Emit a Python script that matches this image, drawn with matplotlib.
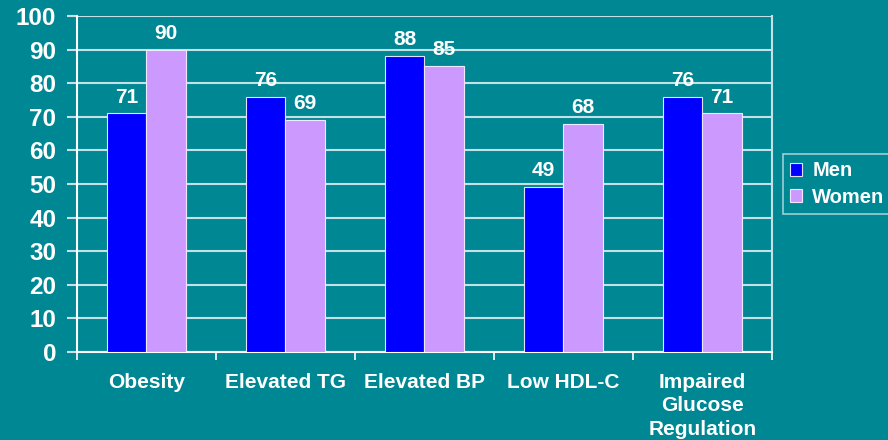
import numpy as np
import matplotlib.pyplot as plt

categories = ['Obesity', 'Elevated TG', 'Elevated BP', 'Low HDL-C', 'Impaired\nGlucose\nRegulation']
men = [71, 76, 88, 49, 76]
women = [90, 69, 85, 68, 71]

bg = '#008794'
grid_col = '#c4e2e6'

plt.rcParams['font.family'] = ['Liberation Sans', 'DejaVu Sans']
plt.rcParams['font.weight'] = 'bold'

fig = plt.figure(figsize=(8.88, 4.4), dpi=100, facecolor=bg)
ax = fig.add_axes([0.0867, 0.2, 0.7826, 0.7636], facecolor=bg)

x = np.arange(len(categories))
w = 0.285
b1 = ax.bar(x - w/2, men, w, color='#0000ff', edgecolor='#e0e0ff', linewidth=0.8, label='Men', zorder=3)
b2 = ax.bar(x + w/2, women, w, color='#cc99ff', edgecolor='#f0e8ff', linewidth=0.8, label='Women', zorder=3)

for bars, vals in [(b1, men), (b2, women)]:
    for r, v in zip(bars, vals):
        ax.annotate(str(v), (r.get_x() + r.get_width()/2, v), xytext=(0, 5),
                    textcoords='offset points', ha='center', va='bottom',
                    color='white', fontsize=15, fontweight='bold')

ax.set_ylim(0, 100)
ax.set_xlim(-0.5, len(categories) - 0.5)
ax.set_yticks(range(0, 101, 10))
ax.yaxis.grid(True, color=grid_col, linewidth=1.5, zorder=0)
ax.tick_params(axis='y', colors='white', labelsize=17.5, length=7, width=1.5, color=grid_col, pad=8)
for lab in ax.get_yticklabels():
    lab.set_fontweight('bold')

ax.set_xticks(np.arange(-0.5, len(categories), 1))
ax.set_xticklabels([])
ax.set_xticks(x, minor=True)
ax.set_xticklabels(categories, minor=True)
ax.tick_params(axis='x', which='major', colors='white', length=6, width=1.2, direction='out')
ax.tick_params(axis='x', which='minor', length=0, colors='white', labelsize=15, pad=15)
for lab in ax.get_xticklabels(minor=True):
    lab.set_fontweight('bold')
    lab.set_linespacing(1.3)

for s in ['left', 'bottom']:
    ax.spines[s].set_color('white')
    ax.spines[s].set_linewidth(1.5)
ax.spines['right'].set_color(grid_col)
ax.spines['right'].set_linewidth(1.5)
ax.spines['top'].set_visible(False)

leg = ax.legend(loc='center left', bbox_to_anchor=(1.016, 0.5), frameon=True, fancybox=False,
                facecolor=bg, edgecolor=grid_col, labelcolor='white',
                prop={'size': 14.5, 'weight': 'bold'}, handlelength=0.6, handleheight=0.6,
                handletextpad=0.5, borderpad=0.35, labelspacing=0.35, borderaxespad=0)
leg.get_frame().set_linewidth(1.2)

fig.savefig('out.png', dpi=100, facecolor=bg)
